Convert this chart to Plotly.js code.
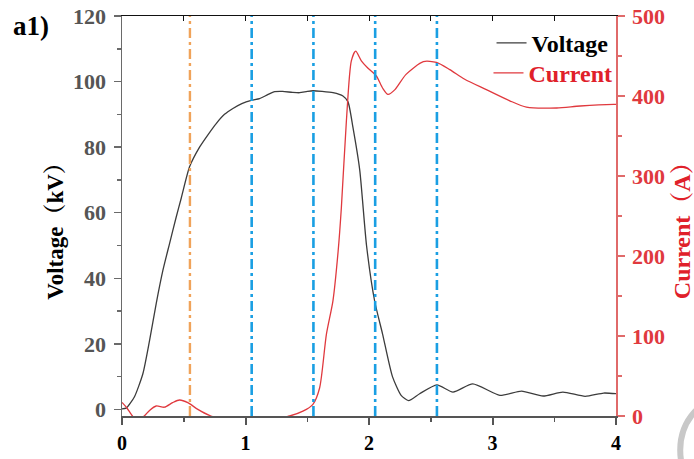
<!DOCTYPE html>
<html>
<head>
<meta charset="utf-8">
<script src="https://cdn.plot.ly/plotly-3.0.1.min.js"></script>
<style>html,body{margin:0;padding:0;background:#fff;}#chart{width:694px;height:459px;}</style>
</head>
<body>
<div id="chart"></div>
<script>
// Time axis (μs) and measured series
const voltageTime = [0, 0.034, 0.10, 0.169, 0.223, 0.277, 0.331, 0.385, 0.439, 0.48, 0.547, 0.628, 0.70, 0.763, 0.83, 0.898, 0.97, 1.047, 1.114, 1.18, 1.236, 1.30, 1.38, 1.438, 1.50, 1.546, 1.62, 1.708, 1.789, 1.83, 1.87, 1.925, 1.98, 2.046, 2.11, 2.19, 2.26, 2.32, 2.41, 2.55, 2.68, 2.84, 3.06, 3.235, 3.41, 3.57, 3.75, 3.90, 4.0];
const voltageKV   = [0.2, 0.4, 3.8, 10.9, 21, 32.3, 42.4, 50.6, 58.7, 64.5, 74, 80, 84, 87.2, 90, 91.8, 93.3, 94.3, 94.8, 96, 96.9, 97, 96.7, 96.6, 97, 97.2, 97, 96.6, 95.6, 93.8, 86, 73, 50, 33, 23, 10, 4.3, 2.7, 4.8, 7.5, 5.3, 7.8, 4.3, 5.6, 4.1, 5.3, 4.0, 5.0, 4.8];

const currentTime = [0, 0.04, 0.075, 0.12, 0.18, 0.223, 0.277, 0.344, 0.41, 0.466, 0.533, 0.614, 0.72, 1.0, 1.357, 1.465, 1.546, 1.60, 1.655, 1.708, 1.75, 1.776, 1.817, 1.857, 1.892, 1.938, 1.99, 2.06, 2.11, 2.154, 2.21, 2.30, 2.44, 2.546, 2.654, 2.775, 2.95, 3.14, 3.275, 3.52, 3.71, 3.98, 4.0];
const currentA    = [17, 10, 2, -6, 0, 7, 12.5, 11, 16.7, 20, 16.7, 8.3, 0, -10, 0, 6, 14.6, 35, 102, 144, 206, 260, 369, 444, 456, 444, 435, 425, 410, 402, 408, 427, 443, 442, 433, 421, 408, 394, 386, 385, 387.5, 389.6, 389.6];

// Marker instants (vertical dash-dot lines)
const orangeMarks = [0.55];
const blueMarks = [1.05, 1.55, 2.05, 2.55];

const xTickVals = [0, 1, 2, 3, 4];
const leftTickVals = [0, 20, 40, 60, 80, 100, 120];
const rightTickVals = [0, 100, 200, 300, 400, 500];

const serif = '"Liberation Serif", "Times New Roman", "Noto Serif CJK SC", "Noto Sans CJK SC", serif';
const red = '#e0393e';

const traces = [
  {x: voltageTime, y: voltageKV, name: 'Voltage', mode: 'lines', legend: 'legend',
   line: {color: '#3c3c3c', width: 1.3, shape: 'spline', smoothing: 0.6}, xaxis: 'x', yaxis: 'y'},
  {x: currentTime, y: currentA, name: 'Current', mode: 'lines', legend: 'legend2',
   line: {color: red, width: 1.3, shape: 'spline', smoothing: 0.7}, xaxis: 'x', yaxis: 'y2'},
  {x: [0], y: [0], mode: 'lines', xaxis: 'x2', yaxis: 'y', showlegend: false, hoverinfo: 'skip', line: {width: 0}}
];

const shapes = [];
orangeMarks.forEach(t => shapes.push({type: 'line', xref: 'x', yref: 'paper', x0: t, x1: t, y0: 0, y1: 1,
  line: {color: '#f0a35a', width: 2.4, dash: '10px,4px,3px,4px'}, layer: 'above'}));
blueMarks.forEach(t => shapes.push({type: 'line', xref: 'x', yref: 'paper', x0: t, x1: t, y0: 0, y1: 1,
  line: {color: '#1a9fe3', width: 2.6, dash: '10px,4px,3px,4px'}, layer: 'above'}));
// watermark ring fragment in lower-right corner
shapes.push({type: 'circle', xref: 'paper', yref: 'paper', x0: 1.13, x1: 1.33, y0: -0.22, y1: 0.05,
  line: {color: '#c8c8c8', width: 6}, layer: 'above'});

const legendBase = {xanchor: 'right', yanchor: 'middle', bgcolor: 'rgba(0,0,0,0)', borderwidth: 0, itemwidth: 30};

const layout = {
  width: 694, height: 459,
  margin: {l: 122, r: 78, t: 16, b: 43},
  paper_bgcolor: '#fff', plot_bgcolor: '#fff',
  font: {family: serif},
  showlegend: true,
  legend: Object.assign({}, legendBase, {x: 0.995, y: 0.932,
    font: {family: serif, size: 24, color: '#000', weight: 'bold'}}),
  legend2: Object.assign({}, legendBase, {x: 1.003, y: 0.857,
    font: {family: serif, size: 24, color: '#e0202a', weight: 'bold'}}),
  xaxis: {range: [0, 4], tickvals: xTickVals, showline: true, linecolor: '#555', linewidth: 2,
    ticks: 'outside', ticklen: 7, tickwidth: 2, tickcolor: '#555',
    minor: {dtick: 0.5, ticks: 'outside', ticklen: 4, tickwidth: 1.5, tickcolor: '#555'},
    tickfont: {family: serif, size: 20, color: '#000', weight: 'bold'},
    showgrid: false, zeroline: false, ticklabelstandoff: 1},
  xaxis2: {range: [0, 4], overlaying: 'x', side: 'top', anchor: 'y', showline: true, linecolor: '#111', linewidth: 1.5,
    ticks: 'inside', dtick: 0.5, ticklen: 5, tickcolor: '#111', showticklabels: false, showgrid: false, zeroline: false},
  yaxis: {range: [-2, 120], tickvals: leftTickVals, showline: true, linecolor: '#6a6a6a', linewidth: 1.5,
    ticks: 'outside', ticklen: 7, tickwidth: 1.5, tickcolor: '#6a6a6a',
    minor: {dtick: 10, ticks: 'outside', ticklen: 4, tickcolor: '#6a6a6a'},
    tickfont: {family: serif, size: 22, color: '#555', weight: 'bold'},
    showgrid: false, zeroline: false, ticklabelstandoff: 3},
  yaxis2: {range: [0, 500], tickvals: rightTickVals, overlaying: 'y', side: 'right', showline: true,
    linecolor: '#e06a6a', linewidth: 1.5, ticks: 'outside', ticklen: 7, tickwidth: 1.5, tickcolor: '#e06a6a',
    minor: {dtick: 50, ticks: 'outside', ticklen: 4, tickcolor: '#e06a6a'},
    tickfont: {family: serif, size: 22, color: '#e0393e', weight: 'bold'},
    showgrid: false, zeroline: false, ticklabelstandoff: 3},
  shapes: shapes,
  annotations: [
    {text: 'a1)', xref: 'paper', yref: 'paper', x: -0.225, y: 0.975, xanchor: 'left', yanchor: 'middle',
     showarrow: false, font: {family: serif, size: 27, color: '#000', weight: 'bold'}},
    {text: 'Voltage（kV）', xref: 'paper', yref: 'paper', x: -0.136, y: 0.4775, xanchor: 'center', yanchor: 'middle',
     textangle: -90, showarrow: false, font: {family: serif, size: 23, color: '#000', weight: 'bold'}},
    {text: 'Current（A）', xref: 'paper', yref: 'paper', x: 1.134, y: 0.4775, xanchor: 'center', yanchor: 'middle',
     textangle: -90, showarrow: false, font: {family: serif, size: 24, color: '#e0202a', weight: 'bold'}}
  ]
};

Plotly.newPlot('chart', traces, layout, {displayModeBar: false, staticPlot: true});
</script>
</body>
</html>
